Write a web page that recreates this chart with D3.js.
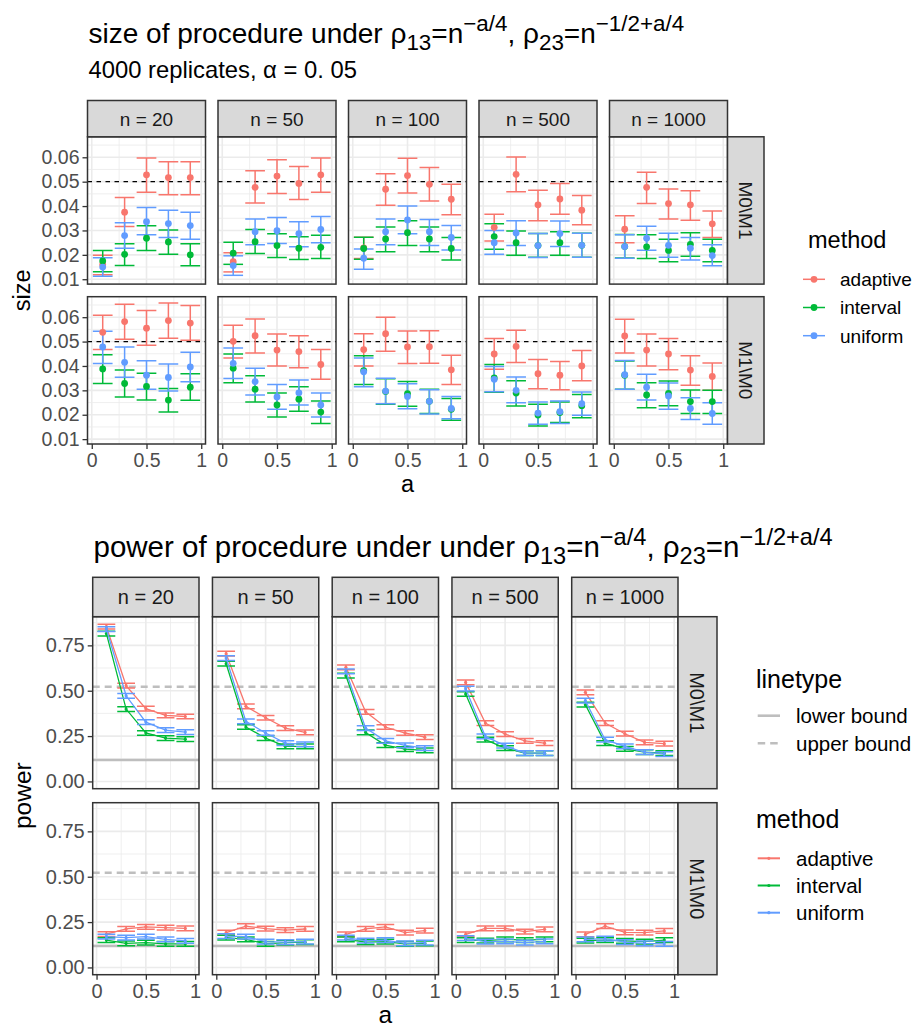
<!DOCTYPE html>
<html><head><meta charset="utf-8">
<script src="https://cdn.jsdelivr.net/npm/d3@7"></script>
<style>body{margin:0;background:#fff}svg{display:block}</style>
</head><body><svg id="c" width="914" height="1028"></svg>
<script>
// ---------------- data ----------------
const methods = ["adaptive", "interval", "uniform"];
const methodColors = ["#F8766D", "#00BA38", "#619CFF"];
const nLabels = ["n = 20", "n = 50", "n = 100", "n = 500", "n = 1000"];
const rowLabels = ["M0\\M1", "M1\\M0"];
const aValues = [0.1, 0.3, 0.5, 0.7, 0.9];
const xTicks = [0, 0.5, 1];
const xMinor = [0.25, 0.75];
const sizeTicks = [0.01, 0.02, 0.03, 0.04, 0.05, 0.06];
const sizeMinor = [0.015, 0.025, 0.035, 0.045, 0.055, 0.065];
const powerTicks = [0, 0.25, 0.5, 0.75];
const powerMinor = [0.125, 0.375, 0.625, 0.875];
const alphaLevel = 0.05;
const boundLabels = ["lower bound", "upper bound"];
const boundValues = [0.118, 0.522];
const powerCIHalf = 0.013;

// size: [estimate, lower, upper] ; outer = n, inner = a
const sizeM0M1Adaptive = [
  [[0.0160,0.0118,0.0198],[0.0375,0.0316,0.0435],[0.0528,0.0457,0.0597],[0.0517,0.0446,0.0582],[0.0517,0.0446,0.0582]],
  [[0.0172,0.0130,0.0209],[0.0477,0.0413,0.0545],[0.0523,0.0452,0.0590],[0.0493,0.0427,0.0562],[0.0528,0.0457,0.0597]],
  [[0.0228,0.0185,0.0272],[0.0469,0.0403,0.0533],[0.0525,0.0454,0.0596],[0.0489,0.0421,0.0558],[0.0428,0.0364,0.0489]],
  [[0.0313,0.0257,0.0366],[0.0530,0.0459,0.0601],[0.0405,0.0340,0.0465],[0.0429,0.0366,0.0492],[0.0383,0.0323,0.0443]],
  [[0.0305,0.0250,0.0360],[0.0477,0.0410,0.0539],[0.0410,0.0347,0.0470],[0.0405,0.0342,0.0463],[0.0327,0.0271,0.0380]]];
const sizeM0M1Interval = [
  [[0.0175,0.0131,0.0218],[0.0202,0.0156,0.0245],[0.0268,0.0218,0.0319],[0.0253,0.0202,0.0302],[0.0200,0.0155,0.0245]],
  [[0.0207,0.0161,0.0252],[0.0254,0.0205,0.0304],[0.0238,0.0189,0.0286],[0.0227,0.0181,0.0274],[0.0231,0.0185,0.0280]],
  [[0.0226,0.0182,0.0272],[0.0265,0.0213,0.0314],[0.0291,0.0238,0.0340],[0.0265,0.0213,0.0314],[0.0226,0.0179,0.0271]],
  [[0.0275,0.0223,0.0327],[0.0250,0.0198,0.0298],[0.0238,0.0190,0.0287],[0.0250,0.0198,0.0295],[0.0239,0.0190,0.0288]],
  [[0.0234,0.0187,0.0283],[0.0233,0.0185,0.0282],[0.0218,0.0172,0.0264],[0.0243,0.0194,0.0291],[0.0218,0.0172,0.0264]]];
const sizeM0M1Uniform = [
  [[0.0150,0.0112,0.0188],[0.0279,0.0227,0.0332],[0.0336,0.0282,0.0394],[0.0328,0.0271,0.0383],[0.0320,0.0264,0.0375]],
  [[0.0156,0.0116,0.0196],[0.0295,0.0241,0.0347],[0.0299,0.0246,0.0353],[0.0287,0.0233,0.0336],[0.0304,0.0250,0.0357]],
  [[0.0186,0.0141,0.0224],[0.0295,0.0241,0.0347],[0.0343,0.0286,0.0400],[0.0295,0.0238,0.0345],[0.0271,0.0220,0.0320]],
  [[0.0250,0.0202,0.0300],[0.0290,0.0238,0.0340],[0.0238,0.0189,0.0287],[0.0287,0.0234,0.0339],[0.0239,0.0190,0.0288]],
  [[0.0234,0.0186,0.0282],[0.0268,0.0219,0.0317],[0.0239,0.0190,0.0288],[0.0227,0.0179,0.0271],[0.0197,0.0155,0.0241]]];
const sizeM1M0Adaptive = [
  [[0.0538,0.0468,0.0608],[0.0582,0.0510,0.0653],[0.0555,0.0485,0.0627],[0.0586,0.0514,0.0658],[0.0576,0.0505,0.0648]],
  [[0.0501,0.0433,0.0567],[0.0524,0.0453,0.0593],[0.0465,0.0400,0.0531],[0.0459,0.0393,0.0524],[0.0406,0.0346,0.0468]],
  [[0.0467,0.0400,0.0532],[0.0532,0.0460,0.0600],[0.0478,0.0410,0.0543],[0.0479,0.0411,0.0544],[0.0384,0.0324,0.0444]],
  [[0.0449,0.0387,0.0513],[0.0480,0.0414,0.0546],[0.0368,0.0307,0.0427],[0.0362,0.0302,0.0418],[0.0400,0.0339,0.0463]],
  [[0.0523,0.0453,0.0592],[0.0465,0.0400,0.0531],[0.0449,0.0384,0.0513],[0.0383,0.0321,0.0442],[0.0357,0.0300,0.0412]]];
const sizeM1M0Interval = [
  [[0.0388,0.0328,0.0446],[0.0328,0.0273,0.0383],[0.0316,0.0260,0.0370],[0.0260,0.0211,0.0308],[0.0313,0.0259,0.0368]],
  [[0.0391,0.0331,0.0449],[0.0305,0.0252,0.0360],[0.0240,0.0191,0.0289],[0.0264,0.0214,0.0315],[0.0211,0.0164,0.0256]],
  [[0.0381,0.0324,0.0442],[0.0295,0.0243,0.0348],[0.0286,0.0235,0.0336],[0.0255,0.0205,0.0304],[0.0222,0.0177,0.0267]],
  [[0.0351,0.0292,0.0406],[0.0289,0.0236,0.0339],[0.0199,0.0154,0.0243],[0.0209,0.0168,0.0252],[0.0237,0.0188,0.0283]],
  [[0.0362,0.0305,0.0420],[0.0281,0.0229,0.0331],[0.0287,0.0237,0.0338],[0.0254,0.0205,0.0301],[0.0254,0.0205,0.0300]]];
const sizeM1M0Uniform = [
  [[0.0478,0.0410,0.0542],[0.0415,0.0354,0.0478],[0.0362,0.0304,0.0421],[0.0353,0.0297,0.0408],[0.0396,0.0335,0.0456]],
  [[0.0411,0.0349,0.0474],[0.0336,0.0281,0.0391],[0.0273,0.0222,0.0324],[0.0290,0.0240,0.0342],[0.0240,0.0191,0.0289]],
  [[0.0376,0.0315,0.0433],[0.0297,0.0245,0.0350],[0.0275,0.0225,0.0327],[0.0255,0.0203,0.0302],[0.0226,0.0184,0.0275]],
  [[0.0345,0.0294,0.0398],[0.0300,0.0249,0.0355],[0.0207,0.0161,0.0252],[0.0213,0.0164,0.0256],[0.0245,0.0198,0.0293]],
  [[0.0364,0.0305,0.0422],[0.0313,0.0260,0.0366],[0.0277,0.0222,0.0330],[0.0226,0.0180,0.0270],[0.0205,0.0161,0.0249]]];

// power estimates ; outer = n, inner = a
const powerM0M1Adaptive = [[0.853,0.528,0.401,0.364,0.358],[0.704,0.414,0.351,0.294,0.270],[0.629,0.384,0.300,0.267,0.244],[0.546,0.322,0.261,0.224,0.211],[0.491,0.322,0.263,0.215,0.208]];
const powerM0M1Interval = [[0.815,0.399,0.267,0.239,0.233],[0.649,0.300,0.239,0.193,0.193],[0.583,0.270,0.200,0.178,0.171],[0.482,0.230,0.184,0.156,0.156],[0.423,0.211,0.180,0.162,0.156]];
const powerM0M1Uniform = [[0.840,0.472,0.327,0.283,0.272],[0.680,0.331,0.267,0.211,0.204],[0.607,0.294,0.224,0.199,0.184],[0.511,0.248,0.197,0.156,0.156],[0.445,0.230,0.193,0.162,0.151]];
const powerM1M0Adaptive = [[0.184,0.212,0.224,0.219,0.215],[0.192,0.228,0.214,0.206,0.212],[0.182,0.212,0.224,0.192,0.203],[0.182,0.215,0.215,0.197,0.210],[0.182,0.228,0.193,0.192,0.201]];
const powerM1M0Interval = [[0.151,0.133,0.137,0.130,0.130],[0.164,0.155,0.130,0.137,0.139],[0.155,0.139,0.142,0.130,0.133],[0.151,0.148,0.155,0.151,0.155],[0.148,0.151,0.146,0.142,0.151]];
const powerM1M0Uniform = [[0.170,0.164,0.170,0.155,0.146],[0.173,0.170,0.142,0.139,0.142],[0.164,0.148,0.151,0.133,0.137],[0.162,0.142,0.144,0.137,0.144],[0.155,0.159,0.139,0.133,0.130]];

// ---------------- drawing ----------------
const FF = "'Liberation Sans', Arial, Helvetica, sans-serif";
const svg = d3.select("#c").attr("font-family", FF);
svg.append("rect").attr("width", 914).attr("height", 1028).attr("fill", "#fff");
const xDomain = [-0.039, 1.039];

const sizeRows = [[sizeM0M1Adaptive, sizeM0M1Interval, sizeM0M1Uniform],
                  [sizeM1M0Adaptive, sizeM1M0Interval, sizeM1M0Uniform]];
const powerRows = [[powerM0M1Adaptive, powerM0M1Interval, powerM0M1Uniform],
                   [powerM1M0Adaptive, powerM1M0Interval, powerM1M0Uniform]];

function mathTitle(x, y, fs, prefix) {
  const t = svg.append("text").attr("x", x).attr("y", y).attr("font-size", fs).attr("fill", "#000");
  const segs = [[prefix + "ρ", 0], ["13", -1], ["=n", 0], ["−a/4", 1], [", ρ", 0], ["23", -1], ["=n", 0], ["−1/2+a/4", 1]];
  let cur = 0;
  segs.forEach(([s, k]) => {
    const target = k === 1 ? -0.42 * fs : (k === -1 ? 0.24 * fs : 0);
    t.append("tspan").attr("dy", target - cur).attr("font-size", k ? fs * 0.8 : fs).text(s);
    cur = target;
  });
  return t;
}

function drawGrid(cfg) {
  const g = svg.append("g");
  const x = d3.scaleLinear().domain(xDomain).range([0, cfg.pw]);
  const y = d3.scaleLinear().domain(cfg.yDomain).range([cfg.ph, 0]);
  const nCols = nLabels.length;
  rowLabels.forEach((rl, r) => {
    nLabels.forEach((nl, c) => {
      const px = cfg.left0 + c * cfg.step, py = cfg.rowTops[r];
      const p = g.append("g").attr("transform", `translate(${px},${py})`);
      p.append("rect").attr("width", cfg.pw).attr("height", cfg.ph).attr("fill", "#fff");
      // grid
      p.selectAll(".ymin").data(cfg.yMinor.filter(v => v > cfg.yDomain[0] && v < cfg.yDomain[1])).join("line")
        .attr("x1", 0).attr("x2", cfg.pw).attr("y1", d => y(d)).attr("y2", d => y(d))
        .attr("stroke", "#EBEBEB").attr("stroke-width", 0.8);
      p.selectAll(".xmin").data(xMinor).join("line")
        .attr("y1", 0).attr("y2", cfg.ph).attr("x1", d => x(d)).attr("x2", d => x(d))
        .attr("stroke", "#EBEBEB").attr("stroke-width", 0.8);
      p.selectAll(".ymaj").data(cfg.yTicks).join("line")
        .attr("x1", 0).attr("x2", cfg.pw).attr("y1", d => y(d)).attr("y2", d => y(d))
        .attr("stroke", "#EBEBEB").attr("stroke-width", 1.6);
      p.selectAll(".xmaj").data(xTicks).join("line")
        .attr("y1", 0).attr("y2", cfg.ph).attr("x1", d => x(d)).attr("x2", d => x(d))
        .attr("stroke", "#EBEBEB").attr("stroke-width", 1.6);
      const clipId = `clip-${cfg.id}-${r}-${c}`;
      p.append("clipPath").attr("id", clipId).append("rect").attr("width", cfg.pw).attr("height", cfg.ph);
      const d = p.append("g").attr("clip-path", `url(#${clipId})`);
      cfg.drawData(d, x, y, r, c);
      p.append("rect").attr("width", cfg.pw).attr("height", cfg.ph).attr("fill", "none")
        .attr("stroke", "#333333").attr("stroke-width", 1.5);
      // top strip
      if (r === 0) {
        p.append("rect").attr("y", -cfg.stripH).attr("width", cfg.pw).attr("height", cfg.stripH)
          .attr("fill", "#D9D9D9").attr("stroke", "#333333").attr("stroke-width", 1.5);
        p.append("text").attr("x", cfg.pw / 2).attr("y", -cfg.stripH / 2).attr("dy", "0.36em")
          .attr("text-anchor", "middle").attr("font-size", cfg.stripFs).attr("fill", "#1A1A1A").text(nl);
      }
      // right strip
      if (c === nCols - 1) {
        p.append("rect").attr("x", cfg.pw).attr("width", cfg.stripW).attr("height", cfg.ph)
          .attr("fill", "#D9D9D9").attr("stroke", "#333333").attr("stroke-width", 1.5);
        p.append("text").attr("transform", `translate(${cfg.pw + cfg.stripW / 2},${cfg.ph / 2}) rotate(90)`)
          .attr("dy", "0.36em").attr("text-anchor", "middle").attr("font-size", cfg.stripFs)
          .attr("fill", "#1A1A1A").text(rl);
      }
      // y axis
      if (c === 0) {
        const ax = p.append("g").call(d3.axisLeft(y).tickValues(cfg.yTicks).tickFormat(cfg.yFmt).tickSize(5).tickPadding(3));
        ax.select(".domain").remove();
        ax.selectAll(".tick line").attr("stroke", "#333333").attr("stroke-width", 1.3);
        ax.selectAll(".tick text").attr("fill", "#4D4D4D").attr("font-size", cfg.tickFs).attr("font-family", FF);
      }
      // x axis
      if (r === rowLabels.length - 1) {
        const ax = p.append("g").attr("transform", `translate(0,${cfg.ph})`)
          .call(d3.axisBottom(x).tickValues(xTicks).tickFormat(d3.format("~g")).tickSize(5).tickPadding(4));
        ax.select(".domain").remove();
        ax.selectAll(".tick line").attr("stroke", "#333333").attr("stroke-width", 1.3);
        ax.selectAll(".tick text").attr("fill", "#4D4D4D").attr("font-size", cfg.tickFs).attr("font-family", FF);
      }
    });
  });
  const leftAll = cfg.left0, rightAll = cfg.left0 + (nCols - 1) * cfg.step + cfg.pw;
  const topAll = cfg.rowTops[0], botAll = cfg.rowTops[rowLabels.length - 1] + cfg.ph;
  svg.append("text").attr("x", (leftAll + rightAll) / 2).attr("y", cfg.xTitleY).attr("text-anchor", "middle")
    .attr("font-size", cfg.axisTitleFs).attr("fill", "#000").text("a");
  svg.append("text").attr("transform", `translate(${cfg.yTitleX},${(topAll + botAll) / 2}) rotate(-90)`)
    .attr("text-anchor", "middle").attr("font-size", cfg.axisTitleFs).attr("fill", "#000").text(cfg.yTitle);
}

// ---------- size chart ----------
mathTitle(88.5, 43, 28, "size of procedure under ");
svg.append("text").attr("x", 88.5).attr("y", 78).attr("font-size", 23.8).attr("fill", "#000")
  .text("4000 replicates, α = 0. 05");

drawGrid({
  id: "size", left0: 87.5, step: 130.5, pw: 118, stripH: 36.3, stripW: 36.5,
  rowTops: [136.8, 296.7], ph: 147.3, yDomain: [0.008, 0.0684],
  yTicks: sizeTicks, yMinor: sizeMinor, yFmt: d3.format(".2f"),
  stripFs: 19, tickFs: 19.5, axisTitleFs: 23.5, xTitleY: 492, yTitleX: 30, yTitle: "size",
  drawData: (g, x, y, r, c) => {
    g.append("line").attr("x1", 0).attr("x2", x(xDomain[1])).attr("y1", y(alphaLevel)).attr("y2", y(alphaLevel))
      .attr("stroke", "#000").attr("stroke-width", 1.3).attr("stroke-dasharray", "4.5,4.5");
    const hw = (x(0.09) - x(0));
    sizeRows[r].forEach((arr, m) => {
      const col = methodColors[m];
      arr[c].forEach((t, i) => {
        const cx = x(aValues[i]);
        const eg = g.append("g").attr("stroke", col).attr("stroke-width", 1.5);
        eg.append("line").attr("x1", cx).attr("x2", cx).attr("y1", y(t[1])).attr("y2", y(t[2]));
        eg.append("line").attr("x1", cx - hw).attr("x2", cx + hw).attr("y1", y(t[1])).attr("y2", y(t[1]));
        eg.append("line").attr("x1", cx - hw).attr("x2", cx + hw).attr("y1", y(t[2])).attr("y2", y(t[2]));
      });
    });
    sizeRows[r].forEach((arr, m) => {
      g.selectAll(null).data(arr[c]).join("circle")
        .attr("cx", (d, i) => x(aValues[i])).attr("cy", d => y(d[0])).attr("r", 3.4).attr("fill", methodColors[m]);
    });
  }
});

// size legend
svg.append("text").attr("x", 808).attr("y", 248).attr("font-size", 23.5).attr("fill", "#000").text("method");
methods.forEach((m, i) => {
  const cy = 279.3 + i * 28.2;
  svg.append("line").attr("x1", 803).attr("x2", 825).attr("y1", cy).attr("y2", cy)
    .attr("stroke", methodColors[i]).attr("stroke-width", 1.5);
  svg.append("circle").attr("cx", 814).attr("cy", cy).attr("r", 3.4).attr("fill", methodColors[i]);
  svg.append("text").attr("x", 840).attr("y", cy).attr("dy", "0.36em").attr("font-size", 19).attr("fill", "#000").text(m);
});

// ---------- power chart ----------
mathTitle(93.5, 557, 29.5, "power of procedure under under ");

drawGrid({
  id: "power", left0: 92.7, step: 119.75, pw: 106.3, stripH: 39.4, stripW: 39,
  rowTops: [616.7, 802.7], ph: 172, yDomain: [-0.040, 0.908],
  yTicks: powerTicks, yMinor: powerMinor, yFmt: d3.format(".2f"),
  stripFs: 20, tickFs: 20, axisTitleFs: 24.5, xTitleY: 1023, yTitleX: 31, yTitle: "power",
  drawData: (g, x, y, r, c) => {
    boundValues.forEach((b, k) => {
      g.append("line").attr("x1", 0).attr("x2", x(xDomain[1])).attr("y1", y(b)).attr("y2", y(b))
        .attr("stroke", "#BEBEBE").attr("stroke-width", 2.4).attr("stroke-dasharray", k === 1 ? "7,5" : null);
    });
    const hw = (x(0.09) - x(0));
    const line = d3.line().x((d, i) => x(aValues[i])).y(d => y(d));
    powerRows[r].forEach((arr, m) => {
      const col = methodColors[m];
      g.append("path").attr("d", line(arr[c])).attr("fill", "none").attr("stroke", col).attr("stroke-width", 1.3);
      arr[c].forEach((v, i) => {
        const cx = x(aValues[i]);
        const lo = v - powerCIHalf, hi = v + powerCIHalf;
        const eg = g.append("g").attr("stroke", col).attr("stroke-width", 1.5);
        eg.append("line").attr("x1", cx).attr("x2", cx).attr("y1", y(lo)).attr("y2", y(hi));
        eg.append("line").attr("x1", cx - hw).attr("x2", cx + hw).attr("y1", y(lo)).attr("y2", y(lo));
        eg.append("line").attr("x1", cx - hw).attr("x2", cx + hw).attr("y1", y(hi)).attr("y2", y(hi));
      });
      g.selectAll(null).data(arr[c]).join("circle")
        .attr("cx", (d, i) => x(aValues[i])).attr("cy", d => y(d)).attr("r", 1.6).attr("fill", col);
    });
  }
});

// power legends
svg.append("text").attr("x", 756).attr("y", 687.5).attr("font-size", 25).attr("fill", "#000").text("linetype");
boundLabels.forEach((lab, i) => {
  const cy = 715.7 + i * 27.6;
  svg.append("line").attr("x1", 757.7).attr("x2", 780).attr("y1", cy).attr("y2", cy)
    .attr("stroke", "#BEBEBE").attr("stroke-width", 2.6).attr("stroke-dasharray", i === 1 ? "7.5,5" : null);
  svg.append("text").attr("x", 796).attr("y", cy).attr("dy", "0.36em").attr("font-size", 20.5).attr("fill", "#000").text(lab);
});
svg.append("text").attr("x", 756).attr("y", 828.3).attr("font-size", 25).attr("fill", "#000").text("method");
methods.forEach((m, i) => {
  const cy = 858.3 + i * 27.2;
  svg.append("line").attr("x1", 757.7).attr("x2", 780).attr("y1", cy).attr("y2", cy)
    .attr("stroke", methodColors[i]).attr("stroke-width", 2);
  svg.append("circle").attr("cx", 768.85).attr("cy", cy).attr("r", 1.6).attr("fill", methodColors[i]);
  svg.append("text").attr("x", 796).attr("y", cy).attr("dy", "0.36em").attr("font-size", 20.5).attr("fill", "#000").text(m);
});
</script></body></html>
